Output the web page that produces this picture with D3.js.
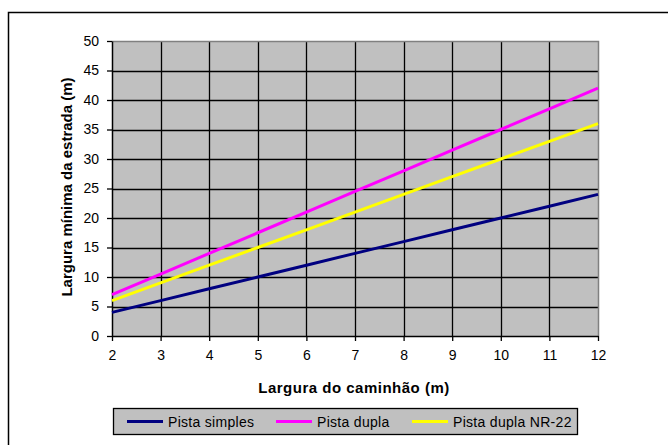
<!DOCTYPE html>
<html>
<head>
<meta charset="utf-8">
<script src="https://cdn.jsdelivr.net/npm/d3@7"></script>
<style>
  html, body { margin: 0; padding: 0; background: #fff; }
  svg { display: block; font-family: "Liberation Sans", Arial, sans-serif; }
</style>
</head>
<body>
<svg id="chart" width="668" height="445"></svg>
<script>
// Truck width (m) on the x axis
const larguraCaminhao = [2, 3, 4, 5, 6, 7, 8, 9, 10, 11, 12];
// Minimum road width (m) for each configuration
const pistaSimples = [4, 6, 8, 10, 12, 14, 16, 18, 20, 22, 24];
const pistaDupla = [7, 10.5, 14, 17.5, 21, 24.5, 28, 31.5, 35, 38.5, 42];
const pistaDuplaNR22 = [6, 9, 12, 15, 18, 21, 24, 27, 30, 33, 36];
const yTicks = [0, 5, 10, 15, 20, 25, 30, 35, 40, 45, 50];
const seriesNames = ["Pista simples", "Pista dupla", "Pista dupla NR-22"];
const seriesColors = ["#000080", "#FF00FF", "#FFFF00"];
const seriesValues = [pistaSimples, pistaDupla, pistaDuplaNR22];

const svg = d3.select("#chart");
const W = 668, H = 445;
const plot = { left: 112, right: 598, top: 41, bottom: 336 };

// Outer chart frame (extends past the visible window on right/bottom)
svg.append("rect")
  .attr("x", 8.5).attr("y", 12.5)
  .attr("width", W).attr("height", H)
  .attr("fill", "#fff").attr("stroke", "#000").attr("stroke-width", 1.5);

const x = d3.scaleLinear().domain([2, 12]).range([plot.left, plot.right]);
const y = d3.scaleLinear().domain([0, 50]).range([plot.bottom, plot.top]);

// Plot background
svg.append("rect")
  .attr("x", plot.left).attr("y", plot.top)
  .attr("width", plot.right - plot.left).attr("height", plot.bottom - plot.top)
  .attr("fill", "#C0C0C0");

// Grid lines
const grid = svg.append("g").attr("stroke", "#000").attr("stroke-width", 1.3);
grid.selectAll("line.v").data(larguraCaminhao.slice(1, -1)).join("line")
  .attr("x1", d => Math.round(x(d)) + 0.5).attr("x2", d => Math.round(x(d)) + 0.5)
  .attr("y1", plot.top).attr("y2", plot.bottom);
grid.selectAll("line.h").data(yTicks.slice(1, -1)).join("line")
  .attr("x1", plot.left).attr("x2", plot.right)
  .attr("y1", d => Math.round(y(d)) + 0.5).attr("y2", d => Math.round(y(d)) + 0.5);

// Top and right border of the plot area
svg.append("path")
  .attr("d", `M${plot.left},${plot.top + 0.5}H${plot.right + 0.5}V${plot.bottom}`)
  .attr("fill", "none").attr("stroke", "#808080").attr("stroke-width", 1.5);

// Axes
const xAxis = svg.append("g")
  .attr("transform", `translate(0,${plot.bottom})`)
  .call(d3.axisBottom(x).tickValues(larguraCaminhao).tickSize(5).tickPadding(9).tickSizeOuter(0));
const yAxis = svg.append("g")
  .attr("transform", `translate(${plot.left},0)`)
  .call(d3.axisLeft(y).tickValues(yTicks).tickSize(5).tickPadding(8).tickSizeOuter(0));
[xAxis, yAxis].forEach(a => {
  a.select(".domain").attr("stroke", "#000").attr("stroke-width", 1.5);
  a.selectAll(".tick line").attr("stroke", "#000").attr("stroke-width", 1.3);
  a.selectAll("text").attr("font-size", 14).attr("fill", "#000")
    .attr("font-family", "'Liberation Sans', Arial, sans-serif");
});

// Series lines
const line = d3.line().x((d, i) => x(larguraCaminhao[i])).y(d => y(d));
seriesValues.forEach((vals, k) => {
  svg.append("path")
    .datum(vals)
    .attr("d", line)
    .attr("fill", "none")
    .attr("stroke", seriesColors[k])
    .attr("stroke-width", 3);
});

// Axis titles
svg.append("text")
  .attr("x", 354).attr("y", 392.5)
  .attr("text-anchor", "middle")
  .attr("font-size", 15).attr("font-weight", "bold")
  .attr("letter-spacing", 0.5)
  .text("Largura do caminhão (m)");
svg.append("text")
  .attr("transform", "translate(71.5,187) rotate(-90)")
  .attr("text-anchor", "middle")
  .attr("font-size", 15).attr("font-weight", "bold")
  .text("Largura mínima da estrada (m)");

// Legend
const legend = svg.append("g");
legend.append("rect")
  .attr("x", 113.5).attr("y", 408.5)
  .attr("width", 464).attr("height", 26)
  .attr("fill", "#C0C0C0").attr("stroke", "#000").attr("stroke-width", 1.3);
const legendX = [127, 276, 412];
seriesNames.forEach((name, k) => {
  legend.append("line")
    .attr("x1", legendX[k]).attr("x2", legendX[k] + 36)
    .attr("y1", 421.5).attr("y2", 421.5)
    .attr("stroke", seriesColors[k]).attr("stroke-width", 3);
  legend.append("text")
    .attr("x", legendX[k] + 41).attr("y", 426.5)
    .attr("font-size", 14)
    .attr("letter-spacing", 0.3)
    .text(name);
});
</script>
</body>
</html>
